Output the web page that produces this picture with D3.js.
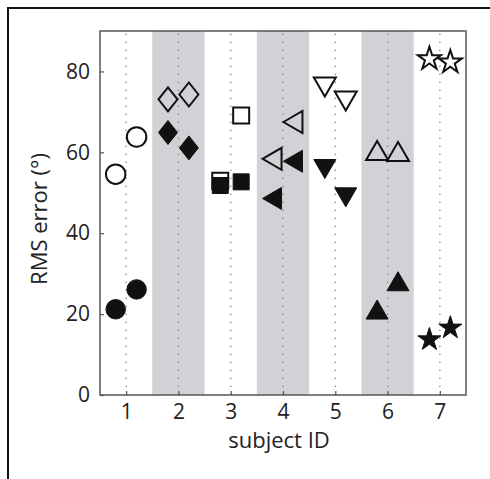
<!DOCTYPE html>
<html>
<head>
<meta charset="utf-8">
<script src="https://cdn.jsdelivr.net/npm/d3@7"></script>
<style>
  body { margin: 0; background: #fff; }
  text { font-family: "Open Sans", sans-serif; fill: #222; }
</style>
</head>
<body>
<svg id="chart" width="490" height="479"></svg>
<script>
// subjects and the two conditions per subject (left = -0.2, right = +0.2)
const subjects = [1, 2, 3, 4, 5, 6, 7]
const markerShapes = ['circle', 'diamond', 'square', 'triLeft', 'triDown', 'triUp', 'star']
const openLeft = [54.6, 73.1, 53.0, 58.4, 76.3, 60.3, 83.1]
const openRight = [63.8, 74.3, 69.1, 67.5, 72.8, 60.1, 82.3]
const filledLeft = [21.2, 64.9, 51.8, 48.6, 56.0, 21.0, 13.7]
const filledRight = [26.1, 61.1, 52.7, 57.8, 49.0, 28.0, 16.6]
const yTicks = [0, 20, 40, 60, 80]
const shadedSubjects = [2, 4, 6]

const svg = d3.select('#chart')
const margin = { left: 100, top: 31, right: 24, bottom: 84 }
const W = 490, H = 479
const x = d3.scaleLinear().domain([0.5, 7.5]).range([margin.left, W - margin.right])
const y = d3.scaleLinear().domain([0, 90]).range([H - margin.bottom, margin.top])

// outer figure frame (only left/top visible)
svg.append('path')
    .attr('d', `M8,${H} L8,8 L${W},8`)
    .attr('fill', 'none').attr('stroke', '#111').attr('stroke-width', 2)

// gray bands
svg.selectAll('rect.band')
    .data(shadedSubjects)
    .enter().append('rect')
    .attr('class', 'band')
    .attr('x', d => x(d - 0.5))
    .attr('width', d => x(d + 0.5) - x(d - 0.5))
    .attr('y', y(90))
    .attr('height', y(0) - y(90))
    .attr('fill', '#d0d2d5')

// dotted guide lines
svg.selectAll('line.guide')
    .data(subjects)
    .enter().append('line')
    .attr('x1', d => x(d)).attr('x2', d => x(d))
    .attr('y1', y(0)).attr('y2', y(90))
    .attr('stroke', '#8a7a78').attr('stroke-width', 1.3)
    .attr('stroke-dasharray', '1.3,6.7')

const shapePath = (shape) => {
    switch (shape) {
        case 'circle': return d3.symbol(d3.symbolCircle, Math.PI * 95)()
        case 'diamond': return 'M0,-12 L9.5,0 L0,12 L-9.5,0 Z'
        case 'square': return 'M-8,-8 L8,-8 L8,8 L-8,8 Z'
        case 'triLeft': return 'M-10,0 L9,-11 L9,11 Z'
        case 'triDown': return 'M-11,-9 L11,-9 L0,10 Z'
        case 'triUp': return 'M-11,9 L11,9 L0,-10 Z'
        case 'star': return d3.symbol(d3.symbolStar, 165)()
    }
}

const points = []
subjects.forEach((s, i) => {
    points.push({ x: s - 0.2, v: openLeft[i], shape: markerShapes[i], filled: false })
    points.push({ x: s + 0.2, v: openRight[i], shape: markerShapes[i], filled: false })
})
subjects.forEach((s, i) => {
    points.push({ x: s - 0.2, v: filledLeft[i], shape: markerShapes[i], filled: true })
    points.push({ x: s + 0.2, v: filledRight[i], shape: markerShapes[i], filled: true })
})

svg.selectAll('path.mark')
    .data(points)
    .enter().append('path')
    .attr('class', 'mark')
    .attr('transform', d => `translate(${x(d.x)},${y(d.v)})`)
    .attr('d', d => shapePath(d.shape))
    .attr('fill', d => d.filled ? '#111' : 'none')
    .attr('stroke', '#111')
    .attr('stroke-width', d => d.filled ? 1 : 2)

// axes (ticks pointing inward)
const yAxis = svg.append('g')
    .attr('transform', `translate(${margin.left},0)`)
    .call(d3.axisLeft(y).tickValues(yTicks).tickSizeInner(-4).tickSizeOuter(0).tickPadding(10))
const xAxis = svg.append('g')
    .attr('transform', `translate(0,${y(0)})`)
    .call(d3.axisBottom(x).tickValues(subjects).tickFormat(d3.format('d'))
        .tickSizeInner(-4).tickSizeOuter(0).tickPadding(9))

;[yAxis, xAxis].forEach(g => {
    g.select('.domain').remove()
    g.selectAll('line').attr('stroke', '#555').attr('stroke-width', 1.2)
    g.selectAll('text').attr('font-size', 21).attr('fill', '#222')
})

// plot box
svg.append('rect')
    .attr('x', x(0.5)).attr('y', y(90))
    .attr('width', x(7.5) - x(0.5)).attr('height', y(0) - y(90))
    .attr('fill', 'none').attr('stroke', '#555').attr('stroke-width', 1.5)

// axis titles
svg.append('text')
    .attr('x', (x(0.5) + x(7.5)) / 2 - 4).attr('y', 448)
    .attr('text-anchor', 'middle').attr('font-size', 22)
    .text('subject ID')
svg.append('text')
    .attr('transform', `translate(47,${(y(0) + y(90)) / 2 + 6}) rotate(-90)`)
    .attr('text-anchor', 'middle').attr('font-size', 22)
    .text('RMS error (°)')
</script>
</body>
</html>
